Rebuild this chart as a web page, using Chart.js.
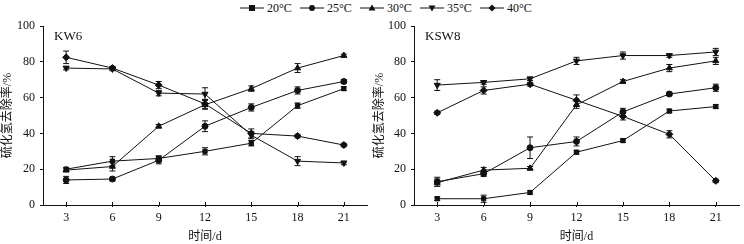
<!DOCTYPE html>
<html>
<head>
<meta charset="utf-8">
<script src="https://cdn.jsdelivr.net/npm/chart.js@4"></script>
<style>
  body { margin: 0; background: #fff; }
  #wrap { position: relative; width: 744px; height: 244px; }
  .panel { position: absolute; top: 0; width: 372px; height: 244px; }
  #legend { position: absolute; top: 0; left: 240px; height: 16px; display: flex; align-items: center;
            font: 12px 'Liberation Serif', serif; color: #111; }
  #legend .item { display: flex; align-items: center; width: 60px; }
  #legend svg { margin-right: 3px; }
</style>
</head>
<body>
<div id="wrap">
  <div id="legend"></div>
  <div class="panel" style="left:0"><canvas id="kw6"></canvas></div>
  <div class="panel" style="left:372px"><canvas id="ksw8"></canvas></div>
</div>
<script>
const days = ['3', '6', '9', '12', '15', '18', '21'];
const temps = ['20°C', '25°C', '30°C', '35°C', '40°C'];

// KW6 removal rate (%)
const kw6_20 = [20, 24.5, 26, 30, 34.5, 55.5, 65];
const kw6_25 = [14, 14.5, 25, 44, 54.5, 64, 69];
const kw6_30 = [19.5, 21.5, 44, 56, 65, 76.5, 83.5];
const kw6_35 = [76.5, 76, 62.5, 62, 39, 24.5, 23.5];
const kw6_40 = [82.5, 76.5, 67, 56.5, 40, 38.5, 33.5];
// KW6 error
const kw6_20e = [1, 2.5, 1.5, 2, 1.5, 1.5, 1];
const kw6_25e = [2, 1, 2, 3, 2, 2, 1];
const kw6_30e = [1, 2.5, 1, 2.5, 1.5, 2.5, 0.8];
const kw6_35e = [1, 1, 1.5, 3.5, 2, 2.5, 1];
const kw6_40e = [3.5, 1, 2, 2.5, 2.5, 1, 1];

// KSW8 removal rate (%)
const ksw8_20 = [3.5, 3.5, 7, 29.5, 36, 52.5, 55];
const ksw8_25 = [13, 17.5, 32, 35.5, 52, 62, 65.5];
const ksw8_30 = [12.5, 19.5, 20.5, 56, 69, 76.5, 80.5];
const ksw8_35 = [67, 68.5, 70.5, 80.5, 83.5, 83.5, 85.5];
const ksw8_40 = [51.5, 64, 67.5, 58.5, 49.5, 39.5, 13.5];
// KSW8 error
const ksw8_20e = [1, 2, 1, 1, 1, 1, 1];
const ksw8_25e = [2.5, 1.5, 6, 2.5, 2, 1, 2];
const ksw8_30e = [2, 1.5, 1, 2, 1, 2, 2];
const ksw8_35e = [3, 1, 1, 2, 2, 1, 2];
const ksw8_40e = [1, 2, 1, 3, 2, 2, 1];

const styles = ['rect', 'circle', 'triangle', 'triangle', 'rectRot'];
const rotations = [0, 0, 0, 180, 0];
const radii = [3, 3, 3.5, 3.5, 3.5];

const FONT = "'Liberation Serif', 'Noto Sans CJK SC', serif";
const INK = '#111';

const errorBars = {
  id: 'errorBars',
  afterDatasetsDraw(chart) {
    const ctx = chart.ctx;
    const y = chart.scales.y;
    ctx.save();
    ctx.strokeStyle = INK;
    ctx.lineWidth = 1;
    chart.data.datasets.forEach((ds, i) => {
      chart.getDatasetMeta(i).data.forEach((pt, j) => {
        const e = ds.err[j];
        const yt = y.getPixelForValue(ds.data[j] + e);
        const yb = y.getPixelForValue(ds.data[j] - e);
        ctx.beginPath();
        ctx.moveTo(pt.x, yt); ctx.lineTo(pt.x, yb);
        ctx.moveTo(pt.x - 3, yt); ctx.lineTo(pt.x + 3, yt);
        ctx.moveTo(pt.x - 3, yb); ctx.lineTo(pt.x + 3, yb);
        ctx.stroke();
      });
    });
    ctx.restore();
  }
};

// small inward tick marks on the x axis (the outer part comes from grid ticks)
const innerTicks = {
  id: 'innerTicks',
  afterDraw(chart) {
    const ctx = chart.ctx;
    const x = chart.scales.x;
    ctx.save();
    ctx.strokeStyle = INK;
    ctx.lineWidth = 1;
    ctx.beginPath();
    x.ticks.forEach((t, i) => {
      const px = Math.round(x.getPixelForTick(i)) + 0.5;
      ctx.moveTo(px, x.top);
      ctx.lineTo(px, x.top - 3);
    });
    ctx.stroke();
    ctx.restore();
  }
};

const panelLabel = {
  id: 'panelLabel',
  afterDraw(chart, args, opts) {
    const ctx = chart.ctx;
    ctx.save();
    ctx.font = '13px ' + FONT;
    ctx.fillStyle = INK;
    ctx.textBaseline = 'middle';
    ctx.fillText(opts.text, chart.chartArea.left + 11, 37);
    ctx.restore();
  }
};

function makePanel(id, label, values, errs, axisW, padRight) {
  new Chart(document.getElementById(id), {
    type: 'line',
    data: {
      labels: days,
      datasets: temps.map((t, i) => ({
        label: t,
        data: values[i],
        err: errs[i],
        borderColor: INK,
        backgroundColor: INK,
        borderWidth: 1,
        pointStyle: styles[i],
        rotation: rotations[i],
        pointRadius: radii[i],
        tension: 0
      }))
    },
    options: {
      animation: false,
      responsive: true,
      maintainAspectRatio: false,
      layout: { padding: { top: 26, right: padRight, bottom: 0, left: 0 } },
      plugins: {
        legend: { display: false },
        tooltip: { enabled: false },
        panelLabel: { text: label }
      },
      scales: {
        x: {
          type: 'category',
          offset: true,
          grid: { drawOnChartArea: false, drawTicks: true, tickLength: 2, color: INK },
          border: { color: INK, width: 1 },
          ticks: { color: INK, font: { family: FONT, size: 12 }, padding: 4, maxRotation: 0 },
          title: { display: true, text: '时间/d', color: INK, font: { family: FONT, size: 12 }, padding: { top: 2, bottom: 0 } },
          afterFit(s) { s.height = 39; }
        },
        y: {
          min: 0, max: 100,
          grid: { drawOnChartArea: false, drawTicks: true, tickLength: 3, color: INK },
          border: { color: INK, width: 1 },
          ticks: { stepSize: 20, color: INK, font: { family: FONT, size: 12 }, padding: 5 },
          title: { display: true, text: '硫化氢去除率/%', color: INK, font: { family: FONT, size: 12 }, padding: { top: 1, bottom: 0 } },
          afterFit(s) { s.width = axisW; }
        }
      }
    },
    plugins: [errorBars, innerTicks, panelLabel]
  });
}

makePanel('kw6', 'KW6', [kw6_20, kw6_25, kw6_30, kw6_35, kw6_40],
  [kw6_20e, kw6_25e, kw6_30e, kw6_35e, kw6_40e], 43, 2);
makePanel('ksw8', 'KSW8', [ksw8_20, ksw8_25, ksw8_30, ksw8_35, ksw8_40],
  [ksw8_20e, ksw8_25e, ksw8_30e, ksw8_35e, ksw8_40e], 42, 3);

// legend
const markerSvg = [
  '<rect x="9" y="5" width="6" height="6"/>',
  '<circle cx="12" cy="8" r="3"/>',
  '<polygon points="12,4.5 15.5,10.5 8.5,10.5"/>',
  '<polygon points="12,11.5 15.5,5.5 8.5,5.5"/>',
  '<polygon points="12,4.5 15.5,8 12,11.5 8.5,8"/>'
];
const legend = document.getElementById('legend');
temps.forEach((t, i) => {
  const item = document.createElement('div');
  item.className = 'item';
  item.innerHTML = '<svg width="24" height="16" fill="' + INK + '"><line x1="0" y1="8" x2="24" y2="8" stroke="' + INK + '" stroke-width="1"/>' +
    markerSvg[i] + '</svg><span>' + t + '</span>';
  legend.appendChild(item);
});
</script>
</body>
</html>
